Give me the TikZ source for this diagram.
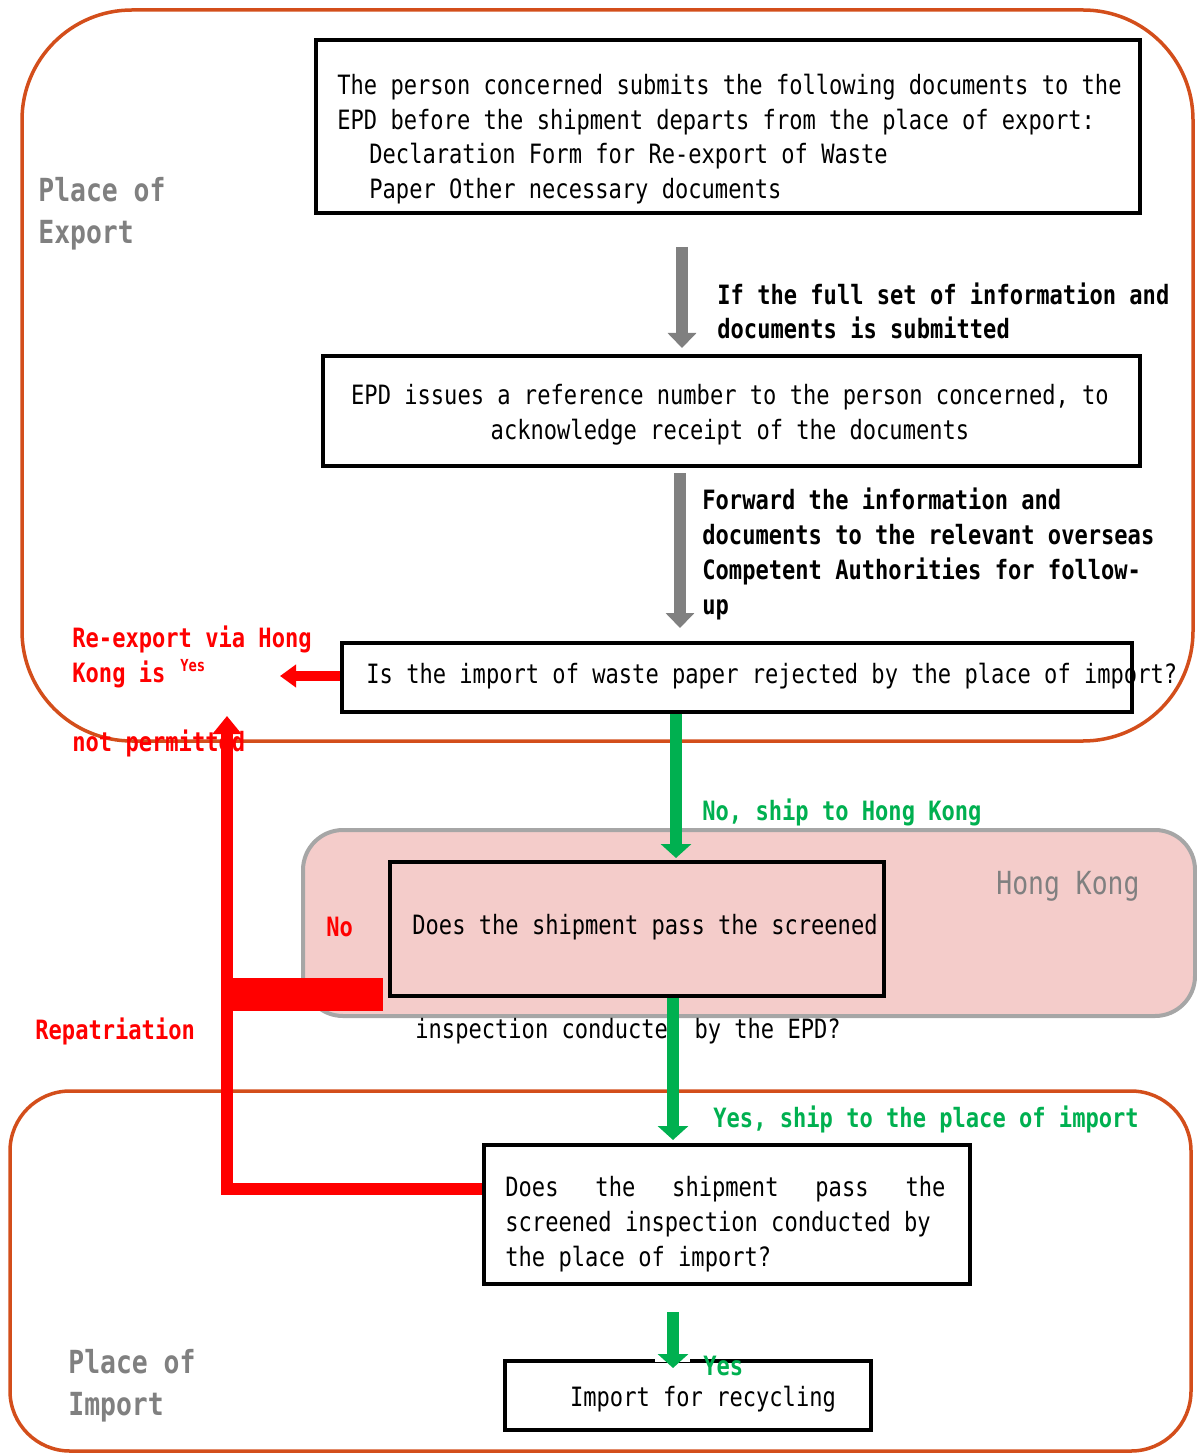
\documentclass[tikz,border=0pt]{standalone}
\usepackage{fontspec}
\setmainfont{DejaVu Sans Mono}[FakeStretch=0.83]
\usepackage{tikz}
\usetikzlibrary{arrows.meta,positioning,calc}

\definecolor{regionorange}{RGB}{211,78,27}
\definecolor{hkpink}{RGB}{244,204,202}
\definecolor{hkgray}{RGB}{166,166,166}
\definecolor{placegray}{RGB}{128,128,128}
\definecolor{arrowgray}{RGB}{128,128,128}
\definecolor{okgreen}{RGB}{0,176,80}
\definecolor{rejectred}{RGB}{255,0,0}

\begin{document}
\begin{tikzpicture}[
    x=0.5pt, y=-0.5pt,
    region/.style={draw=regionorange, line width=1.75pt},
    box/.style={draw, line width=2pt, rectangle, inner sep=0pt},
    body/.style={inner sep=0pt, anchor=west, align=left,
      font=\fontsize{13.3pt}{17.35pt}\selectfont},
    note/.style={body, font=\fontsize{13.3pt}{17.35pt}\selectfont\bfseries},
    place/.style={inner sep=0pt, anchor=west, align=left, text=placegray,
      font=\fontsize{15.9pt}{21pt}\selectfont\bfseries},
    grayflow/.style={draw=arrowgray, line width=6pt,
      -{Triangle[width=14pt,length=7.5pt]}},
    okflow/.style={draw=okgreen, line width=6pt,
      -{Triangle[width=15pt,length=7pt]}},
    backflow/.style={draw=rejectred, line join=miter}
  ]
  \useasboundingbox (0,0) rectangle (1197,1454);

  % regions
  \draw[region, rounded corners=55pt] (22,10) rectangle (1193,741);
  \draw[draw=hkgray, fill=hkpink, line width=2pt, rounded corners=20pt]
    (303,830) rectangle (1195,1016);
  \draw[region, rounded corners=30pt] (10,1091) rectangle (1191,1451);

  \node[place] (export) at (38,214) {Place of\\Export};
  \node[place] (import) at (68,1386) {Place of\\Import};
  \node[place, font=\fontsize{15.9pt}{21pt}\selectfont] (hk) at (996,886) {Hong Kong};

  % boxes
  \node[box, minimum width=412pt, minimum height=86.5pt] (submit) at (728,126.5) {};
  \node[box, minimum width=408.5pt, minimum height=55pt] (issue) at (731.5,411) {};
  \node[box, minimum width=395pt, minimum height=34.5pt] (reject) at (737,677.5) {};
  \node[box, minimum width=247pt, minimum height=67pt] (hkcheck) at (637,929) {};
  \node[box, minimum width=243pt, minimum height=69.5pt] (impcheck) at (727,1214.5) {};
  \node[box, minimum width=183pt, minimum height=34.5pt] (recycle) at (688,1395.5) {};

  % texts
  \node[body] (submittxt) at (337,139) {The person concerned submits the following documents to the\\
    EPD before the shipment departs from the place of export:\\
    \hspace*{16pt}Declaration Form for Re-export of Waste\\
    \hspace*{16pt}Paper Other necessary documents};
  \node[body, anchor=center, align=center] (issuetxt) at (730,415)
    {EPD issues a reference number to the person concerned, to\\
     acknowledge receipt of the documents};
  \node[body] (rejecttxt) at (366,676)
    {Is the import of waste paper rejected by the place of import?};
  \node[body] (hktxt) at (412,927) {Does the shipment pass the screened};
  \node[body] (hktxtb) at (415,1031) {inspection conducted by the EPD?};
  \node[body] (imptxt) at (505,1224)
    {\makebox[220pt][l]{Does\hfill the\hfill shipment\hfill pass\hfill the}\\
     screened inspection conducted by\\
     the place of import?};
  \node[body, anchor=center] (recycletxt) at (703,1399) {Import for recycling};

  \node[note] (fullset) at (717,311) {If the full set of information and\\documents is submitted};
  \node[note] (forward) at (702,554) {Forward the information and\\
    documents to the relevant overseas\\
    Competent Authorities for follow-\\
    up};
  \node[note, text=rejectred] (reexport) at (72,657) {Re-export via Hong\\Kong is};
  \node[note, text=rejectred, font=\fontsize{8.3pt}{9pt}\selectfont\bfseries] (yestop) at (180,666) {Yes};
  \node[note, text=rejectred] (notperm) at (72,743) {not permitted};
  \node[note, text=okgreen] (shiphk) at (702,812) {No, ship to Hong Kong};
  \node[note, text=rejectred] (hkno) at (326,927) {No};
  \node[note, text=rejectred] (repat) at (35,1031) {Repatriation};
  \node[note, text=okgreen] (shipimp) at (713,1119) {Yes, ship to the place of import};

  % connectors
  \coordinate (g1) at (682,0);
  \coordinate (g2) at (680,0);
  \coordinate (k1) at (676,0);
  \coordinate (k2) at (673,0);
  \coordinate (rtip) at (227,716);
  \coordinate (rcorner) at (227,1189);
  \coordinate (rleft) at (280,0);
  \coordinate (nobar) at (383,994.5);

  \draw[grayflow] ([yshift=-16pt]submit.south -| g1) -- ([yshift=3pt]issue.north -| g1);
  \draw[grayflow] ([yshift=-2.5pt]issue.south -| g2) -- ([yshift=6.5pt]reject.north -| g2);
  \draw[okflow] (reject.south -| k1) -- ([yshift=1pt]hkcheck.north -| k1);
  \draw[okflow] (hkcheck.south -| k2) -- ([yshift=1.5pt]impcheck.north -| k2);
  \draw[white, line width=3pt] ($(recycle.north -| k2)+(-18,0)$) -- ($(recycle.north -| k2)+(17,0)$);
  \draw[okflow] ([yshift=-13pt]impcheck.south -| k2) -- ([yshift=-4.5pt]recycle.north -| k2);
  \node[note, text=okgreen] (yesend) at (703,1366) {Yes};

  \draw[backflow, line width=5pt, -{Triangle[width=11pt,length=8pt]}]
    ([yshift=0.75pt]reject.west) -- ([yshift=0.75pt]reject.west -| rleft);
  \draw[backflow, line width=16.5pt] (nobar) -- (nobar -| rcorner);
  \draw[backflow, line width=6pt, -{Triangle[width=14pt,length=9pt]}]
    (impcheck.west |- rcorner) -- (rcorner) -- (rtip);
\end{tikzpicture}
\end{document}
